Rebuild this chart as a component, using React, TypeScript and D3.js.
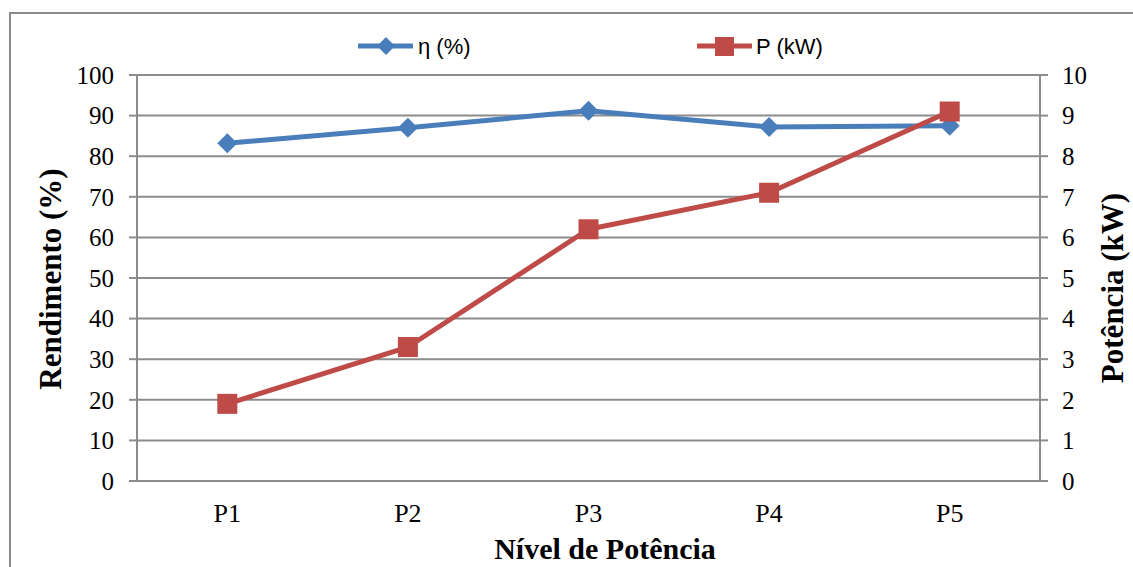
import React from "react";
import * as d3 from "d3";

const categories = ["P1", "P2", "P3", "P4", "P5"];
const etaValues = [83.2, 87.0, 91.2, 87.2, 87.5];
const powerValues = [1.9, 3.3, 6.2, 7.1, 9.1];
const leftTicks = [0, 10, 20, 30, 40, 50, 60, 70, 80, 90, 100];
const rightTicks = [0, 1, 2, 3, 4, 5, 6, 7, 8, 9, 10];

const W = 1133;
const H = 567;
const left = 137;
const right = 1040;
const top = 75;
const bottom = 481;
const BLUE = "#4A7EBB";
const RED = "#BE4B48";
const GRID = "#8C8C8C";
const SERIF = "'Liberation Serif', 'Times New Roman', serif";
const SANS = "'Liberation Sans', Arial, sans-serif";

export default function App() {
  const x = d3.scaleBand<string>().domain(categories).range([left, right]);
  const yL = d3.scaleLinear().domain([0, 100]).range([bottom, top]);
  const yR = d3.scaleLinear().domain([0, 10]).range([bottom, top]);
  const cx = (c: string) => (x(c) ?? 0) + x.bandwidth() / 2;

  const etaLine = d3
    .line<number>()
    .x((_, i) => cx(categories[i]))
    .y((d) => yL(d));
  const pLine = d3
    .line<number>()
    .x((_, i) => cx(categories[i]))
    .y((d) => yR(d));

  const diamond = (px: number, py: number, r: number) =>
    `M${px},${py - r}L${px + r},${py}L${px},${py + r}L${px - r},${py}Z`;

  return (
    <svg
      width={W}
      height={H}
      style={{ position: "absolute", left: 0, top: 0, background: "#fff" }}
    >
      {/* outer border */}
      <rect x={10} y={13} width={1140} height={600} fill="#fff" stroke="#8A8A8A" strokeWidth={2} />

      {/* gridlines */}
      {leftTicks.map((t) => (
        <line key={"g" + t} x1={left} x2={right} y1={yL(t)} y2={yL(t)} stroke={GRID} strokeWidth={2} />
      ))}
      {/* axes */}
      <line x1={left} x2={left} y1={top} y2={bottom} stroke={GRID} strokeWidth={2} />
      <line x1={right} x2={right} y1={top} y2={bottom} stroke={GRID} strokeWidth={2} />
      {leftTicks.map((t) => (
        <line key={"lt" + t} x1={left - 8} x2={left} y1={yL(t)} y2={yL(t)} stroke={GRID} strokeWidth={2} />
      ))}
      {rightTicks.map((t) => (
        <line key={"rt" + t} x1={right} x2={right + 8} y1={yR(t)} y2={yR(t)} stroke={GRID} strokeWidth={2} />
      ))}

      {/* left tick labels */}
      {leftTicks.map((t) => (
        <text key={"ll" + t} x={left - 23} y={yL(t)} dy="0.35em" textAnchor="end" fontFamily={SERIF} fontSize={25} fill="#000">
          {t}
        </text>
      ))}
      {/* right tick labels */}
      {rightTicks.map((t) => (
        <text key={"rl" + t} x={right + 22} y={yR(t)} dy="0.35em" textAnchor="start" fontFamily={SERIF} fontSize={25} fill="#000">
          {t}
        </text>
      ))}
      {/* x labels */}
      {categories.map((c) => (
        <text key={"x" + c} x={cx(c)} y={522} textAnchor="middle" fontFamily={SERIF} fontSize={26} fill="#000">
          {c}
        </text>
      ))}

      {/* axis titles */}
      <text
        transform={`translate(${61},${279}) rotate(-90)`}
        textAnchor="middle"
        fontFamily={SERIF}
        fontWeight="bold"
        fontSize={31}
        fill="#000"
      >
        Rendimento (%)
      </text>
      <text
        transform={`translate(${1123},${288}) rotate(-90)`}
        textAnchor="middle"
        fontFamily={SERIF}
        fontWeight="bold"
        fontSize={31}
        fill="#000"
      >
        Potência (kW)
      </text>
      <text x={605} y={559} textAnchor="middle" fontFamily={SERIF} fontWeight="bold" fontSize={30} fill="#000">
        Nível de Potência
      </text>

      {/* series */}
      <path d={etaLine(etaValues) ?? ""} fill="none" stroke={BLUE} strokeWidth={5} strokeLinejoin="round" />
      <path d={pLine(powerValues) ?? ""} fill="none" stroke={RED} strokeWidth={5} strokeLinejoin="round" />
      {etaValues.map((v, i) => (
        <path key={"d" + i} d={diamond(cx(categories[i]), yL(v), 10)} fill={BLUE} />
      ))}
      {powerValues.map((v, i) => (
        <rect key={"s" + i} x={cx(categories[i]) - 10} y={yR(v) - 10} width={20} height={20} fill={RED} />
      ))}

      {/* legend */}
      <line x1={358} x2={413} y1={46} y2={46} stroke={BLUE} strokeWidth={5} />
      <path d={diamond(386, 46, 9)} fill={BLUE} />
      <text x={418} y={46} dy="0.35em" fontFamily={SANS} fontSize={22} fill="#000">
        η (%)
      </text>
      <line x1={697} x2={752} y1={46} y2={46} stroke={RED} strokeWidth={5} />
      <rect x={715} y={37} width={19} height={19} fill={RED} />
      <text x={756} y={46} dy="0.35em" fontFamily={SANS} fontSize={22} fill="#000">
        P (kW)
      </text>
    </svg>
  );
}
